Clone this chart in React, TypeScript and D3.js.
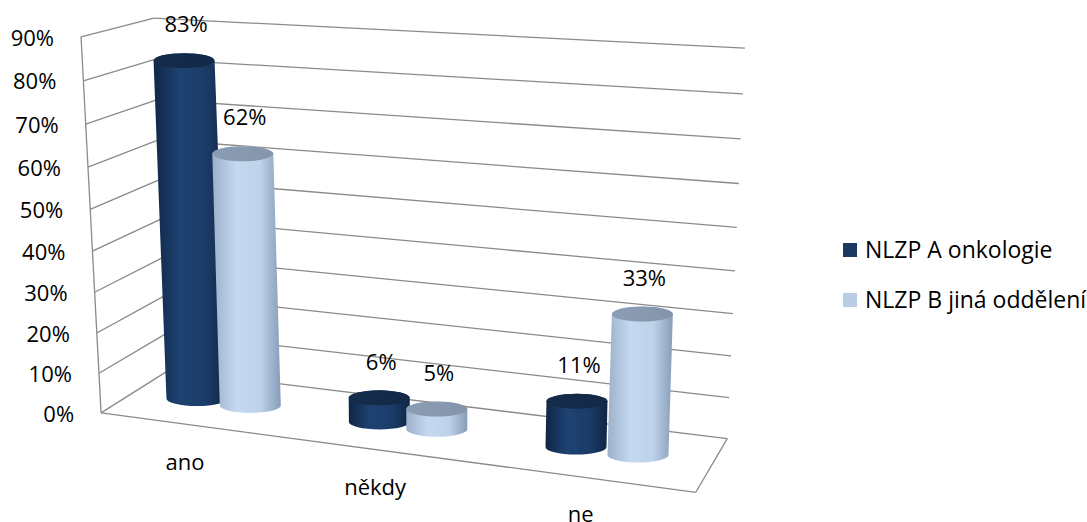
import React from "react";
import * as d3 from "d3";

// ---------- data ----------
const categories = ["ano", "někdy", "ne"];
const seriesNames = ["NLZP A onkologie", "NLZP B jiná oddělení"];
const seriesA = [83, 6, 11];
const seriesB = [62, 5, 33];
const yTicks = [0, 10, 20, 30, 40, 50, 60, 70, 80, 90];
const yMax = 90;

// ---------- layout (chart box corners in world -> screen) ----------
type Corr = { w: [number, number, number]; s: [number, number] };
const boxCorners: Corr[] = [
  { w: [0, 1, 1], s: [153, 18] },
  { w: [1, 1, 1], s: [745, 48] },
  { w: [1, 0, 1], s: [727, 439] },
  { w: [0, 0, 1], s: [170, 370] },
  { w: [0, 1, 0], s: [82, 37] },
  { w: [0, 0, 0], s: [100, 413] },
  { w: [1, 0, 0], s: [696, 492] },
];

const FONT = "'Open Sans', 'Noto Sans', sans-serif";
const colorsBody = [
  ["#0f2745", "#1e4272", "#1b3c69", "#0f2644"],
  ["#9cb0ca", "#c4d8f0", "#bed2ea", "#879cb8"],
];
const colorsTop = ["#142b4b", "#8b9db4"];
const legendColors = ["#1c3a5f", "#b9cde5"];

function solveProjection(pts: Corr[]) {
  const A: number[][] = [];
  const b: number[] = [];
  for (const { w: [X, Y, Z], s: [u, v] } of pts) {
    A.push([X, Y, Z, 1, 0, 0, 0, 0, -u * X, -u * Y, -u * Z]);
    b.push(u);
    A.push([0, 0, 0, 0, X, Y, Z, 1, -v * X, -v * Y, -v * Z]);
    b.push(v);
  }
  const n = 11;
  const M: number[][] = [];
  for (let i = 0; i < n; i++) {
    const row = new Array(n + 1).fill(0);
    for (let j = 0; j < n; j++) {
      let s = 0;
      for (let k = 0; k < A.length; k++) s += A[k][i] * A[k][j];
      row[j] = s;
    }
    let s = 0;
    for (let k = 0; k < A.length; k++) s += A[k][i] * b[k];
    row[n] = s;
    M.push(row);
  }
  for (let c = 0; c < n; c++) {
    let piv = c;
    for (let r = c + 1; r < n; r++) if (Math.abs(M[r][c]) > Math.abs(M[piv][c])) piv = r;
    [M[c], M[piv]] = [M[piv], M[c]];
    for (let r = 0; r < n; r++) {
      if (r === c) continue;
      const f = M[r][c] / M[c][c];
      for (let k = c; k <= n; k++) M[r][k] -= f * M[c][k];
    }
  }
  const p = M.map((row, i) => row[n] / row[i]);
  return (X: number, Y: number, Z: number): [number, number] => {
    const d = p[8] * X + p[9] * Y + p[10] * Z + 1;
    return [
      (p[0] * X + p[1] * Y + p[2] * Z + p[3]) / d,
      (p[4] * X + p[5] * Y + p[6] * Z + p[7]) / d,
    ];
  };
}

const proj = solveProjection(boxCorners);

export default function App() {
  const W = 1087;
  const H = 522;
  const yScale = d3.scaleLinear().domain([0, yMax]).range([0, 1]);
  const xBand = d3.scaleBand<string>().domain(categories).range([0, 1]).paddingInner(0).paddingOuter(0);
  const series = [seriesA, seriesB];
  const barRx = 30.5;
  const barRy = 7.5;
  const zc = 0.5;
  const barWorldW = 0.1;
  const gridColor = "#8a8a8a";

  const line = (a: [number, number], b: [number, number], key: string) => (
    <line key={key} x1={a[0]} y1={a[1]} x2={b[0]} y2={b[1]} stroke={gridColor} strokeWidth={1.3} />
  );

  const grid: React.ReactNode[] = [];
  yTicks.forEach((t) => {
    const y = yScale(t);
    grid.push(line(proj(0, y, 0), proj(0, y, 1), `l${t}`));
    grid.push(line(proj(0, y, 1), proj(1, y, 1), `b${t}`));
  });
  grid.push(line(proj(0, 0, 0), proj(0, 1, 0), "fl"));
  grid.push(line(proj(0, 0, 0), proj(1, 0, 0), "ff"));
  grid.push(line(proj(1, 0, 0), proj(1, 0, 1), "fr"));

  const bars: React.ReactNode[] = [];
  const labels: React.ReactNode[] = [];
  categories.forEach((c, ci) => {
    const cx = (xBand(c) as number) + xBand.bandwidth() / 2;
    series.forEach((vals, si) => {
      const xc = cx + (si === 0 ? -barWorldW / 2 : barWorldW / 2);
      const v = vals[ci];
      const T = proj(xc, yScale(v), zc);
      const B = proj(xc, 0, zc);
      const d = `M${T[0] - barRx},${T[1]} L${B[0] - barRx},${B[1]} A${barRx},${barRy} 0 0 0 ${B[0] + barRx},${B[1]} L${T[0] + barRx},${T[1]} A${barRx},${barRy} 0 0 0 ${T[0] - barRx},${T[1]} Z`;
      bars.push(
        <g key={`bar${ci}-${si}`}>
          <path d={d} fill={`url(#body${si})`} />
          <ellipse cx={T[0]} cy={T[1]} rx={barRx} ry={barRy} fill={`url(#top${si})`} />
        </g>
      );
      labels.push(
        <text key={`lab${ci}-${si}`} x={T[0] + 2} y={T[1] - 36} textAnchor="middle" dy="0.35em" fontFamily={FONT} fontSize={22} fill="#000">
          {d3.format(".0f")(v)}%
        </text>
      );
    });
    const P = proj(cx, 0, 0);
    labels.push(
      <text key={`cat${ci}`} x={P[0] - 6} y={P[1] + 37} textAnchor="middle" dy="0.35em" fontFamily={FONT} fontSize={22} fill="#000">
        {c}
      </text>
    );
  });

  const yLabels = yTicks.map((t) => {
    const P = proj(0, yScale(t), 0);
    return (
      <text key={`y${t}`} x={P[0] - 27} y={P[1] + 1} textAnchor="end" dy="0.35em" fontFamily={FONT} fontSize={22} fill="#000">
        {t}%
      </text>
    );
  });

  return (
    <svg width={W} height={H} style={{ position: "absolute", left: 0, top: 0, background: "#fff" }}>
      <defs>
        {colorsBody.map((cs, i) => (
          <linearGradient key={i} id={`body${i}`} x1="0" y1="0" x2="1" y2="0">
            <stop offset="0" stopColor={cs[0]} />
            <stop offset="0.35" stopColor={cs[1]} />
            <stop offset="0.7" stopColor={cs[2]} />
            <stop offset="1" stopColor={cs[3]} />
          </linearGradient>
        ))}
        {colorsTop.map((c, i) => (
          <linearGradient key={i} id={`top${i}`} x1="0" y1="0" x2="1" y2="0">
            <stop offset="0" stopColor={c} />
            <stop offset="1" stopColor={d3.color(c)!.darker(0.15).formatHex()} />
          </linearGradient>
        ))}
      </defs>
      <rect width={W} height={H} fill="#fff" />
      {grid}
      {bars}
      {labels}
      {yLabels}
      {seriesNames.map((name, i) => (
        <g key={name} transform={`translate(843, ${250 + i * 50})`}>
          <rect x={0} y={-7} width={14} height={14} fill={legendColors[i]} />
          <text x={22} y={0} dy="0.35em" fontFamily={FONT} fontSize={23} fill="#000">
            {name}
          </text>
        </g>
      ))}
    </svg>
  );
}
